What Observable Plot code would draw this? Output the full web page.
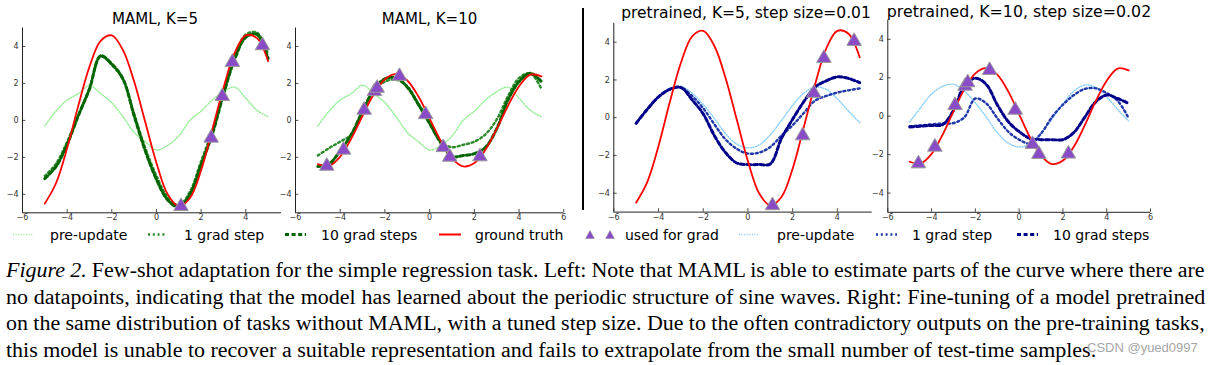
<!DOCTYPE html>
<html><head><meta charset="utf-8">
<script src="https://cdn.jsdelivr.net/npm/d3@7"></script>
<script src="https://cdn.jsdelivr.net/npm/@observablehq/plot@0.6"></script>
<style>
body{margin:0;background:#fff;}
#wrap{position:relative;width:1214px;height:365px;overflow:hidden;font-family:"DejaVu Sans",sans-serif;}
.panel{position:absolute;top:0;}
.title{position:absolute;font-family:"DejaVu Sans",sans-serif;white-space:nowrap;transform:translateX(-50%);color:#000;}
.legtxt{position:absolute;font-family:"DejaVu Sans",sans-serif;font-size:14px;line-height:14px;white-space:nowrap;color:#000;top:228px;}
.legsw{position:absolute;top:229px;}
.cap{position:absolute;left:6px;top:257px;width:1100px;transform:scaleX(1.099);transform-origin:0 0;font-family:"Liberation Serif","Times New Roman",serif;font-size:20px;line-height:26.6px;color:#000;}
.cap div{white-space:nowrap;height:26.6px;}
.cap span.ln{display:inline-block;white-space:nowrap;}
#wm{position:absolute;left:1087px;top:341px;font-family:"Liberation Sans",Arial,sans-serif;font-size:13px;line-height:13px;color:#a6a6a6;white-space:nowrap;}
#divider{position:absolute;left:582px;top:8px;width:1.5px;height:202px;background:#000;}
</style>
</head>
<body>
<div id="wrap">
  <div class="title" style="left:155px;top:12px;font-size:15px;line-height:15px;">MAML, K=5</div>
  <div class="title" style="left:429.5px;top:12px;font-size:15px;line-height:15px;">MAML, K=10</div>
  <div class="title" style="left:746px;top:5.5px;font-size:15.5px;line-height:15.5px;">pretrained, K=5, step size=0.01</div>
  <div class="title" style="left:1019px;top:3.5px;font-size:15.8px;line-height:15.8px;">pretrained, K=10, step size=0.02</div>
  <div id="divider"></div>
  <div id="p1" class="panel" style="left:0px"></div>
  <div id="p2" class="panel" style="left:283px"></div>
  <div id="p3" class="panel" style="left:597px"></div>
  <div id="p4" class="panel" style="left:877px"></div>
  <div id="legend"></div>
  <div class="cap">
    <div><span class="ln just"><i>Figure 2.</i> Few-shot adaptation for the simple regression task. Left: Note that MAML is able to estimate parts of the curve where there are</span></div>
    <div><span class="ln just">no datapoints, indicating that the model has learned about the periodic structure of sine waves. Right: Fine-tuning of a model pretrained</span></div>
    <div><span class="ln just">on the same distribution of tasks without MAML, with a tuned step size. Due to the often contradictory outputs on the pre-training tasks,</span></div>
    <div><span class="ln">this model is unable to recover a suitable representation and fails to extrapolate from the small number of test-time samples.</span></div>
  </div>
  <div id="wm">CSDN @yued0997</div>
</div>
<script>
// ---- data ----
const xs = [-5,-4.5,-4,-3.5,-3,-2.5,-2,-1.5,-1,-0.5,0,0.5,1,1.5,2,2.5,3,3.5,4,4.5,5];

// ground truth sine curves
const truthK5  = [-4.5,-3.4,-1.5,0.8,2.9,4.3,4.6,3.8,2.1,-0.1,-2.3,-4.0,-4.65,-4.2,-2.7,-0.5,1.75,3.65,4.6,4.45,3.2];
const truthK10 = [-2.37,-2.46,-1.96,-0.97,0.25,1.41,2.23,2.5,2.16,1.29,0.1,-1.11,-2.05,-2.49,-2.31,-1.58,-0.46,0.78,1.85,2.48,2.38];

// points used for grad
const shotsK5X  = [1.1,2.45,2.95,3.4,4.75];
const shotsK5Y  = [-4.65,-0.95,1.3,3.15,4.05];
const shotsK10X = [-4.6,-3.85,-2.93,-2.47,-2.35,-1.35,-0.18,0.61,0.9,2.25];
const shotsK10Y = [-2.47,-1.6,0.56,1.57,1.75,2.39,0.32,-1.46,-1.98,-1.96];

// MAML model outputs
const mamlPre      = [-0.3,0.5,1.1,1.45,1.9,1.45,0.95,0.2,-0.65,-1.15,-1.6,-1.35,-0.85,0.0,0.5,1.1,1.55,1.8,1.2,0.55,0.2];
const mamlK5Step1  = [-3.0,-2.35,-1.15,0.3,1.75,3.45,3.0,2.2,0.35,-1.5,-3.0,-4.15,-4.6,-3.85,-2.2,-0.55,1.55,3.45,4.65,4.75,3.6];
const mamlK5Step10 = [-3.15,-2.5,-1.3,0.25,1.7,3.5,3.05,2.25,0.25,-1.65,-3.2,-4.3,-4.7,-4.0,-2.4,-0.75,1.4,3.3,4.5,4.65,3.35];
const mamlK10Step1 = [-1.9,-1.5,-1.15,-0.75,0.55,1.6,2.1,2.2,1.85,0.9,-0.1,-1.15,-1.45,-1.32,-1.15,-0.75,0.05,1.3,2.3,2.55,1.7];
const mamlK10Step10= [-2.5,-2.35,-1.65,-0.75,0.5,1.65,2.25,2.3,1.8,0.85,-0.17,-1.22,-1.95,-1.9,-1.8,-1.45,-0.45,1.1,2.1,2.55,2.1];

// pretrained model outputs
const pretPre       = [-0.3,0.45,1.15,1.55,1.66,1.3,0.7,-0.05,-0.85,-1.4,-1.6,-1.45,-0.9,-0.15,0.65,1.3,1.62,1.5,1.0,0.35,-0.25];
const pretK5Step1   = [-0.28,0.45,1.1,1.5,1.6,1.15,0.5,-0.35,-1.15,-1.65,-1.9,-1.85,-1.55,-0.95,-0.4,0.25,0.9,1.15,1.33,1.45,1.55];
const pretK5Step10  = [-0.3,0.45,1.1,1.5,1.6,0.95,0.2,-0.95,-1.85,-2.4,-2.48,-2.48,-2.45,-1.1,-0.08,0.85,1.62,1.95,2.16,2.08,1.86];
const pretK10Step1  = [-0.52,-0.48,-0.42,-0.38,-0.36,-0.05,0.92,0.66,-0.1,-0.8,-1.22,-1.42,-0.9,-0.05,0.6,1.1,1.42,1.45,1.2,0.8,-0.1];
const pretK10Step10 = [-0.56,-0.52,-0.48,-0.44,0.3,1.6,1.98,1.65,0.6,-0.28,-0.8,-1.16,-1.22,-1.22,-1.22,-0.85,-0.05,0.75,1.1,0.92,0.66];

const yTicks = [-4,-2,0,2,4];
const xTicksFull = [-6,-4,-2,0,2,4,6];
const xTicksCut  = [-6,-4,-2,0,2,4];

// ---- styles ----
const C = {
  gPre:"#90ee90", g1:"#2a8a2a", g10:"#006400",
  bPre:"#87cefa", b1:"#2038a8", b10:"#00008b",
  red:"#ff0000", tri:"#8a4cc6", triEdge:"#9a9a9a"
};
const S = {
  pre:{w:1.4, dash:"1,1.6"},
  s1:{w:2.4, dash:"2,2.8"},
  s10:{w:3, dash:"4,2.6"}
};

function lineOf(vals, color, st){
  const data = xs.map((x,i)=>({x, y: vals[i]}));
  return Plot.line(data, {x:"x", y:"y", stroke:color, strokeWidth:st.w, strokeDasharray:st.dash, curve:"catmull-rom"});
}

function panel(el, o){
  const shots = o.sx.map((x,i)=>({x, y:o.sy[i]}));
  const xmin = -6, ymin = -5;
  const marks = [
    Plot.ruleX([xmin], {stroke:"#222", strokeWidth:1}),
    Plot.ruleY([ymin], {stroke:"#222", strokeWidth:1}),
    Plot.ruleX(o.xticks, {y1:-5, y2:-4.82, stroke:"#222", strokeWidth:0.8}),
    Plot.ruleY(yTicks, {x1:-6, x2:-5.85, stroke:"#222", strokeWidth:0.8}),
    Plot.axisX({ticks:o.xticks, tickSize:0, tickPadding:2, fontSize:8, fill:"#333", label:null}),
    Plot.axisY({ticks:yTicks, tickSize:0, tickPadding:4, fontSize:8, fill:"#333", label:null}),
    lineOf(o.pre, o.cPre, S.pre),
    lineOf(o.s1, o.c1, S.s1),
    lineOf(o.s10, o.c10, S.s10),
    lineOf(o.truth, C.red, {w:1.8, dash:null}),
    Plot.dot(shots, {x:"x", y:"y", symbol:"triangle", r:5.4, fill:C.tri, stroke:C.triEdge, strokeWidth:1})
  ];
  const svg = Plot.plot({
    width:o.width, height:225,
    marginLeft:o.ml, marginRight:o.mr, marginTop:o.mt, marginBottom:o.mb,
    x:{domain:[xmin, o.xmax], label:null}, y:{domain:[-5,5], label:null},
    style:{background:"transparent", overflow:"visible", fontFamily:"DejaVu Sans, sans-serif", fontSize:"8px"},
    marks
  });
  document.getElementById(el).appendChild(svg);
}

panel("p1", {width:281, ml:22, mr:0, mt:27.5, mb:12.7, xmax:5.6, xticks:xTicksCut,
  pre:mamlPre, s1:mamlK5Step1, s10:mamlK5Step10, truth:truthK5, sx:shotsK5X, sy:shotsK5Y,
  cPre:C.gPre, c1:C.g1, c10:C.g10});
panel("p2", {width:286, ml:12, mr:5.7, mt:27.5, mb:12.7, xmax:6, xticks:xTicksFull,
  pre:mamlPre, s1:mamlK10Step1, s10:mamlK10Step10, truth:truthK10, sx:shotsK10X, sy:shotsK10Y,
  cPre:C.gPre, c1:C.g1, c10:C.g10});
panel("p3", {width:280, ml:16.3, mr:5.3, mt:22.8, mb:13.4, xmax:5.56, xticks:xTicksCut,
  pre:pretPre, s1:pretK5Step1, s10:pretK5Step10, truth:truthK5, sx:shotsK5X, sy:shotsK5Y,
  cPre:C.bPre, c1:C.b1, c10:C.b10});
panel("p4", {width:283, ml:10.3, mr:10, mt:19.6, mb:13.2, xmax:6, xticks:xTicksFull,
  pre:pretPre, s1:pretK10Step1, s10:pretK10Step10, truth:truthK10, sx:shotsK10X, sy:shotsK10Y,
  cPre:C.bPre, c1:C.b1, c10:C.b10});

// ---- legend ----
const legendItems = [
  {type:"line", x0:13, x1:33, color:C.gPre, st:S.pre, label:"pre-update", tx:50},
  {type:"line", x0:148, x1:166, color:C.g1, st:S.s1, label:"1 grad step", tx:184},
  {type:"line", x0:285, x1:306, color:C.g10, st:S.s10, label:"10 grad steps", tx:321},
  {type:"line", x0:439, x1:461, color:C.red, st:{w:2, dash:null}, label:"ground truth", tx:475},
  {type:"tri", xs:[590,610], label:"used for grad", tx:625},
  {type:"line", x0:739, x1:760, color:C.bPre, st:S.pre, label:"pre-update", tx:777},
  {type:"line", x0:876, x1:897, color:C.b1, st:S.s1, label:"1 grad step", tx:912},
  {type:"line", x0:1017, x1:1038, color:C.b10, st:S.s10, label:"10 grad steps", tx:1053}
];
const leg = document.getElementById("legend");
const NS = "http://www.w3.org/2000/svg";
for (const it of legendItems){
  const svg = document.createElementNS(NS, "svg");
  svg.setAttribute("class","legsw");
  if (it.type === "line"){
    svg.setAttribute("width", it.x1 - it.x0); svg.setAttribute("height", 12);
    svg.style.left = it.x0 + "px";
    const l = document.createElementNS(NS, "line");
    l.setAttribute("x1",0); l.setAttribute("x2", it.x1 - it.x0);
    l.setAttribute("y1",5.5); l.setAttribute("y2",5.5);
    l.setAttribute("stroke", it.color); l.setAttribute("stroke-width", it.st.w);
    if (it.st.dash) l.setAttribute("stroke-dasharray", it.st.dash);
    svg.appendChild(l);
  } else {
    svg.setAttribute("width", 40); svg.setAttribute("height", 12);
    svg.style.left = (it.xs[0]-6) + "px";
    for (const cx of it.xs){
      const p = document.createElementNS(NS, "path");
      const x = cx - it.xs[0] + 6;
      p.setAttribute("d", `M${x},1.5 L${x+4.3},9.5 L${x-4.3},9.5 Z`);
      p.setAttribute("fill", C.tri); p.setAttribute("stroke", "#8a8a8a"); p.setAttribute("stroke-width", 0.6);
      svg.appendChild(p);
    }
  }
  leg.appendChild(svg);
  const t = document.createElement("div");
  t.className = "legtxt"; t.style.left = it.tx + "px"; t.textContent = it.label;
  leg.appendChild(t);
}

// ---- justify caption lines to the full width (target in unscaled units) ----
const target = 1199 / 1.099;
for (const sp of document.querySelectorAll(".cap span.just")){
  const natural = sp.offsetWidth;
  const spaces = (sp.textContent.match(/ /g) || []).length;
  sp.style.wordSpacing = ((target - natural) / spaces) + "px";
}
</script>
</body></html>
